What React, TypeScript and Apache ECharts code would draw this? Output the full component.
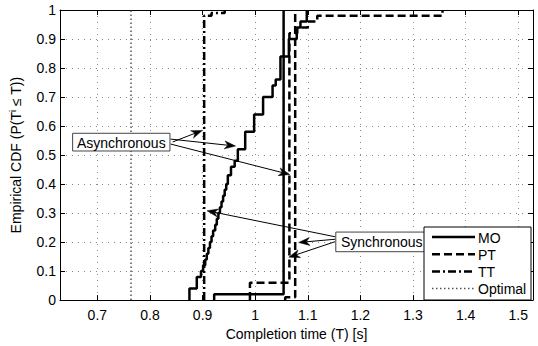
import React, { useEffect, useRef } from "react";
import * as echarts from "echarts";

const FONT = "'Liberation Sans', Arial, Helvetica, sans-serif";

// ---------- data ----------
const legendNames = ["MO", "PT", "TT", "Optimal"];

// MO (asynchronous) empirical CDF
const moAsyncT = [0.875, 0.875, 0.889, 0.897, 0.901, 0.905, 0.908, 0.911, 0.914, 0.917, 0.92, 0.924, 0.927, 0.93, 0.933, 0.936, 0.939, 0.942, 0.945, 0.948, 0.954, 0.961, 0.967, 0.981, 0.998, 1.015, 1.033, 1.039, 1.048, 1.064, 1.079, 1.086, 1.098];
const moAsyncF = [0, 0.04, 0.08, 0.1, 0.12, 0.14, 0.16, 0.18, 0.2, 0.22, 0.24, 0.26, 0.28, 0.3, 0.32, 0.34, 0.36, 0.38, 0.4, 0.43, 0.46, 0.48, 0.52, 0.58, 0.64, 0.7, 0.74, 0.76, 0.84, 0.9, 0.94, 0.96, 1.0];
// MO (synchronous)
const moSyncT = [0.922, 0.922, 1.054];
const moSyncF = [0, 0.02, 1.0];
// PT (asynchronous)
const ptAsyncT = [0.99, 0.99, 1.065, 1.08, 1.1, 1.118, 1.356];
const ptAsyncF = [0, 0.06, 0.92, 0.94, 0.96, 0.98, 1.0];
// PT (synchronous)
const ptSyncT = [1.057, 1.057, 1.076];
const ptSyncF = [0, 0.01, 1.0];
// TT (asynchronous)
const ttAsyncT = [0.903, 0.903, 0.917, 0.942];
const ttAsyncF = [0, 0.98, 0.99, 1.0];
// Optimal
const optT = [0.764, 0.764];
const optF = [0, 1];

// axis ranges
const xRange = [0.629, 1.528];
const yRange = [0, 1];

// annotations (data coordinates)
const asyncLabel = "Asynchronous";
const asyncBox = { x0: 0.653, y0: 0.575, x1: 0.838, y1: 0.514 };
const asyncArrows = [
  { from: [0.843, 0.545], to: [0.8995, 0.585] },
  { from: [0.839, 0.555], to: [0.9627, 0.531] },
  { from: [0.839, 0.538], to: [1.0657, 0.433] },
];
const syncLabel = "Synchronous";
const syncBox = { x0: 1.1532, y0: 0.2345, x1: 1.3279, y1: 0.1668 };
const syncArrows = [
  { from: [1.152, 0.2183], to: [0.9084, 0.308] },
  { from: [1.152, 0.2098], to: [1.0826, 0.1986] },
  { from: [1.152, 0.2014], to: [1.0639, 0.1479] },
];

// line styles per legend entry
const styles: Record<string, { type: any; width: number; color: string }> = {
  MO: { type: "solid", width: 2.5, color: "#000" },
  PT: { type: [8, 4], width: 2.5, color: "#000" },
  TT: { type: [8, 3, 2, 3], width: 2.5, color: "#000" },
  Optimal: { type: [1.5, 2.5], width: 1.5, color: "#555" },
};

const zip = (t: number[], f: number[]) => t.map((v, i) => [v, f[i]]);

const fmt = (v: number) => {
  const r = Math.round(v * 10);
  if (Math.abs(v * 10 - r) > 1e-6) return "";
  return String(r / 10);
};

export default function App() {
  const ref = useRef<HTMLDivElement>(null);
  useEffect(() => {
    if (!ref.current) return;
    const chart = echarts.init(ref.current, undefined, { renderer: "svg" });
    const black = "#000";
    const mkSeries = (name: string, t: number[], f: number[]) => ({
      type: "line",
      name,
      data: zip(t, f),
      step: "end",
      symbol: "none",
      showSymbol: false,
      lineStyle: { color: styles[name].color, width: styles[name].width, type: styles[name].type },
      itemStyle: { color: styles[name].color },
      z: 3,
    });
    const commonTick = { inside: true, length: 5, lineStyle: { color: black, width: 1 } };
    chart.setOption({
      animation: false,
      textStyle: { fontFamily: FONT },
      grid: { left: 53, right: 5, top: 10, bottom: 40, containLabel: false },
      xAxis: [
        {
          type: "value",
          min: xRange[0],
          max: xRange[1],
          splitNumber: 9,
          name: "Completion time (T) [s]",
          nameLocation: "middle",
          nameGap: 25,
          nameTextStyle: { fontSize: 14, color: black, fontFamily: FONT },
          axisLine: { show: true, onZero: false, lineStyle: { color: black, width: 1 } },
          axisTick: commonTick,
          axisLabel: { fontSize: 14, color: black, margin: 8, formatter: fmt, showMinLabel: false, showMaxLabel: false, fontFamily: FONT },
          splitLine: { show: true, lineStyle: { color: "#8a8a8a", width: 1, type: [1, 5] } },
        },
        {
          type: "value",
          position: "top",
          min: xRange[0],
          max: xRange[1],
          splitNumber: 9,
          axisLine: { show: true, onZero: false, lineStyle: { color: black, width: 1 } },
          axisTick: commonTick,
          axisLabel: { show: false },
          splitLine: { show: false },
        },
      ],
      yAxis: [
        {
          type: "value",
          min: yRange[0],
          max: yRange[1],
          interval: 0.1,
          name: "{a|Empirical CDF (P(T}{s|i}{a| ≤ T))}",
          nameLocation: "middle",
          nameRotate: 90,
          nameGap: 36,
          nameTextStyle: {
            fontFamily: FONT,
            rich: {
              a: { fontSize: 14, color: black, fontFamily: FONT, lineHeight: 16 },
              s: { fontSize: 9, color: black, fontFamily: FONT, verticalAlign: "top", lineHeight: 16 },
            },
          },
          axisLine: { show: true, onZero: false, lineStyle: { color: black, width: 1 } },
          axisTick: commonTick,
          axisLabel: { fontSize: 14, color: black, margin: 4, formatter: fmt, fontFamily: FONT },
          splitLine: { show: true, lineStyle: { color: "#8a8a8a", width: 1, type: [1, 5] } },
        },
        {
          type: "value",
          position: "right",
          min: yRange[0],
          max: yRange[1],
          interval: 0.1,
          axisLine: { show: true, onZero: false, lineStyle: { color: black, width: 1 } },
          axisTick: commonTick,
          axisLabel: { show: false },
          splitLine: { show: false },
        },
      ],
      series: [
        mkSeries("MO", moAsyncT, moAsyncF),
        mkSeries("PT", ptAsyncT, ptAsyncF),
        mkSeries("TT", ttAsyncT, ttAsyncF),
        mkSeries("Optimal", optT, optF),
        mkSeries("MO", moSyncT, moSyncF),
        mkSeries("PT", ptSyncT, ptSyncF),
      ],
    });

    const px = (p: number[]) => chart.convertToPixel({ xAxisIndex: 0, yAxisIndex: 0 }, p) as number[];
    const arrowEls = (fromD: number[], toD: number[]) => {
      const s = px(fromD);
      const t = px(toD);
      const dx = t[0] - s[0];
      const dy = t[1] - s[1];
      const len = Math.hypot(dx, dy) || 1;
      const ux = dx / len;
      const uy = dy / len;
      const nx = -uy;
      const ny = ux;
      const L = 11;
      const W = 4;
      const base = [t[0] - ux * L, t[1] - uy * L];
      const back = [t[0] - ux * L * 0.7, t[1] - uy * L * 0.7];
      return [
        {
          type: "line",
          z: 100,
          shape: { x1: s[0], y1: s[1], x2: back[0], y2: back[1] },
          style: { stroke: black, lineWidth: 1 },
        },
        {
          type: "polygon",
          z: 101,
          shape: {
            points: [
              [t[0], t[1]],
              [base[0] + nx * W, base[1] + ny * W],
              [back[0], back[1]],
              [base[0] - nx * W, base[1] - ny * W],
            ],
          },
          style: { fill: black, stroke: black, lineWidth: 0.5 },
        },
      ];
    };
    const boxEls = (label: string, b: { x0: number; y0: number; x1: number; y1: number }) => {
      const a = px([b.x0, b.y0]);
      const c = px([b.x1, b.y1]);
      return [
        {
          type: "rect",
          z: 102,
          shape: { x: a[0], y: a[1], width: c[0] - a[0], height: c[1] - a[1] },
          style: { fill: "#fff", stroke: "#444", lineWidth: 1 },
        },
        {
          type: "text",
          z: 103,
          style: {
            text: label,
            x: (a[0] + c[0]) / 2,
            y: (a[1] + c[1]) / 2 + 0.5,
            font: `14px ${FONT}`,
            fill: black,
            textAlign: "center",
            textVerticalAlign: "middle",
            align: "center",
            verticalAlign: "middle",
          },
        },
      ];
    };
    const graphic: any[] = [];
    asyncArrows.forEach((a) => graphic.push(...arrowEls(a.from, a.to)));
    syncArrows.forEach((a) => graphic.push(...arrowEls(a.from, a.to)));
    graphic.push(...boxEls(asyncLabel, asyncBox));
    graphic.push(...boxEls(syncLabel, syncBox));

    // legend box (bottom-right corner of the plot)
    const gridRect = { right: 538 - 5, bottom: 346 - 40 };
    const legW = 107;
    const legH = 73;
    const legX = gridRect.right - legW - 2;
    const legY = gridRect.bottom - legH - 6;
    graphic.push({
      type: "rect",
      z: 110,
      shape: { x: legX, y: legY, width: legW, height: legH },
      style: { fill: "#fff", stroke: black, lineWidth: 1 },
    });
    legendNames.forEach((name, i) => {
      const cy = legY + 10 + i * 17.2;
      const st = styles[name];
      graphic.push({
        type: "line",
        z: 111,
        shape: { x1: legX + 8, y1: cy, x2: legX + 51, y2: cy },
        style: { stroke: st.color, lineWidth: st.width, lineDash: st.type === "solid" ? null : st.type },
      });
      graphic.push({
        type: "text",
        z: 112,
        style: {
          text: name,
          x: legX + 54,
          y: cy + 0.5,
          font: `14px ${FONT}`,
          fill: black,
          textAlign: "left",
          textVerticalAlign: "middle",
          align: "left",
          verticalAlign: "middle",
        },
      });
    });

    chart.setOption({ graphic });

    return () => chart.dispose();
  }, []);
  return (
    <div
      ref={ref}
      style={{ position: "absolute", left: 0, top: 0, width: 538, height: 346, background: "#fff" }}
    />
  );
}
